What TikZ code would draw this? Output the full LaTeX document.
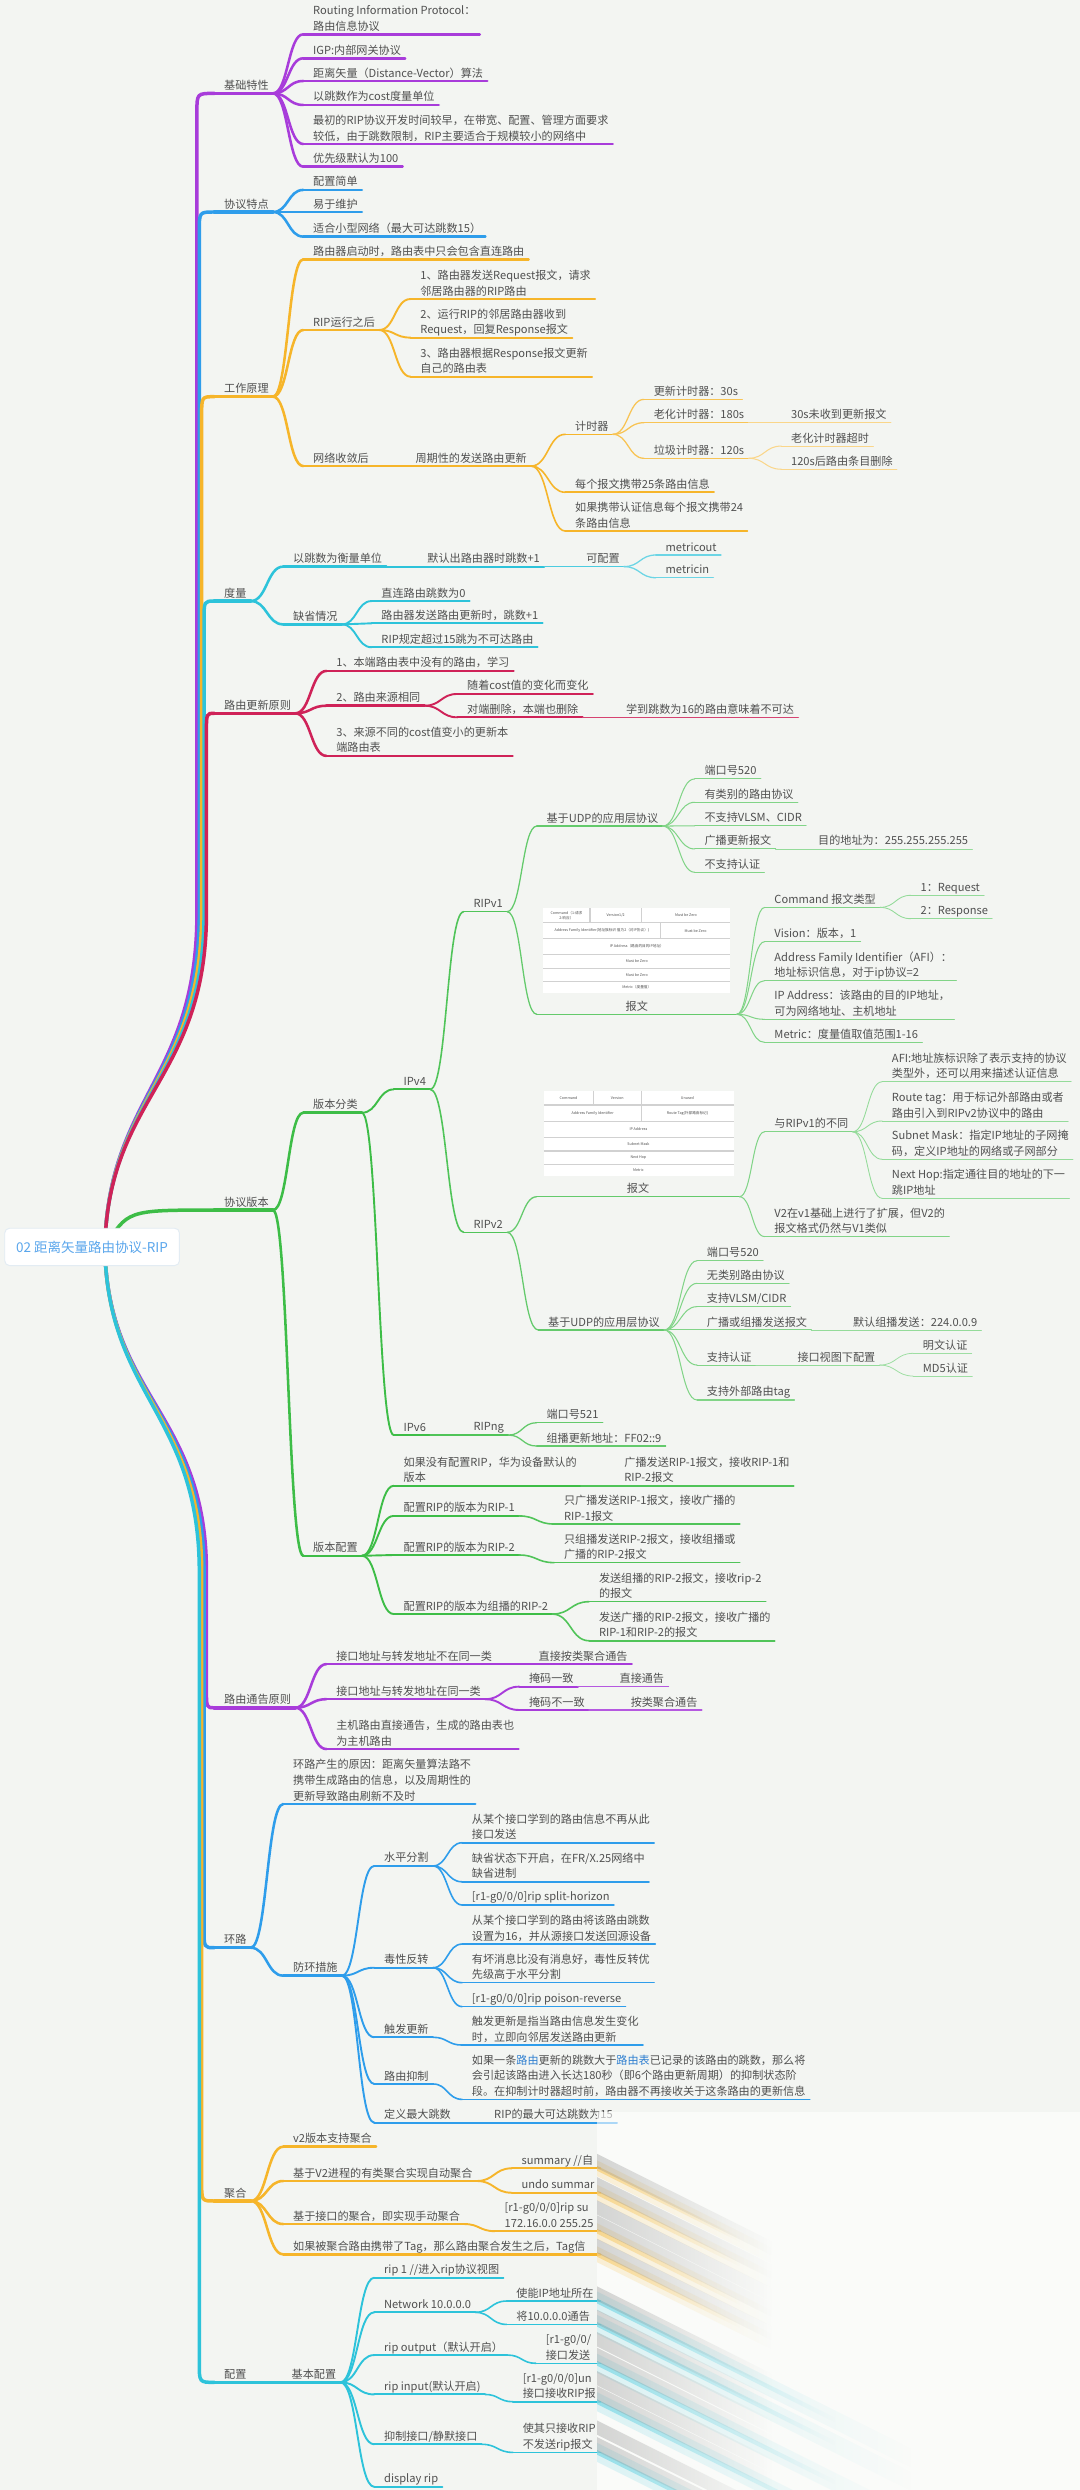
\documentclass[tikz,border=0pt]{standalone}
\usepackage{fontspec}
\setmainfont{Noto Sans CJK SC}
\usetikzlibrary{calc,fadings}
\definecolor{bg}{HTML}{F3F5F2}
\definecolor{tx}{HTML}{505050}
\definecolor{pu}{HTML}{A83CDA}
\definecolor{bl}{HTML}{2E9DEB}
\definecolor{og}{HTML}{F6B52A}
\definecolor{cy}{HTML}{2DC3DA}
\definecolor{cr}{HTML}{CF2258}
\definecolor{gr}{HTML}{3DBD47}
\definecolor{lk}{HTML}{2F7FD0}
\definecolor{rt}{HTML}{5AA6EC}
\definecolor{rootb}{HTML}{E3ECF3}
\newcommand\mystrut{\rule[-1.6pt]{0pt}{1pt}}
\newcommand\Tpc[5]{%
  \coordinate (#2-s) at (#3,#4);
  \node[txt,anchor=south west] (#2) at ($(#2-s)+(6,-0.7)$) {#5\mystrut};
  \coordinate (#2-e) at ($(#2.south east)+(2.5,0.7)$);
  \draw[#1] (#2-s) -- (#2-e);}
\newcommand\TpcX[6]{%
  \coordinate (#2-s) at (#3,#4);
  \node[txt,anchor=south west] (#2) at ($(#2-s)+(6,-0.7)$) {#6\mystrut};
  \coordinate (#2-e) at (#5,#4);
  \draw[#1] (#2-s) -- (#2-e);}
\newcommand\TpcC[6]{%
  \coordinate (#2-s) at (#3,#4);
  \coordinate (#2-e) at (#5,#4);
  \node[txt,anchor=south] (#2) at ($(#2-s)!0.5!(#2-e)+(0,-0.7)$) {#6\mystrut};
  \draw[#1] (#2-s) -- (#2-e);}
\newcommand\Cnx[3]{\draw[#1] let \p1=(#2-e), \p2=(#3-s) in (\p1) .. controls ({0.5*\x1+0.5*\x2},\y1) and ({0.5*\x1+0.5*\x2},\y2) .. (\p2);}
\newcommand\CnU[4]{\draw[#1] (rootc) .. controls (68,690) and (#3,680) .. (#3,575) -- (#3,#4+12) .. controls (#3,#4) .. (#2-s);}
\newcommand\CnD[4]{\draw[#1] (rootc) .. controls (68,880) and (#3,890) .. (#3,990) -- (#3,#4-12) .. controls (#3,#4) .. (#2-s);}
\newcommand\Fan[3]{\foreach \k in {#3}{\Cnx{#1}{#2}{\k}}}
\newcommand\Smear[5]{% color, y top, y bottom, length, opacity
  \fill[#1,path fading=east,opacity=#5] (376,#2) -- (376+#4,{#2+0.5*#4}) -- (376+#4,{#3+0.5*#4}) -- (376,#3) -- cycle;}
\tikzset{
  txt/.style={font=\fontsize{7}{9.8}\selectfont,text=tx,inner sep=0pt,align=left},
  L1/.style={line width=2.2pt,line cap=round},
  L2/.style={line width=1.6pt,line cap=round},
  L3/.style={line width=1.2pt,line cap=round},
  L4/.style={line width=1.0pt,line cap=round},
  L5/.style={line width=0.8pt,line cap=round},
  L6/.style={line width=0.65pt,line cap=round},
  L7/.style={line width=0.55pt,line cap=round},
  L8/.style={line width=0.5pt,line cap=round},
  tb/.style={font=\fontsize{2.3}{2.8}\selectfont,text=tx,inner sep=0pt,align=center},
  sep/.style={draw=black!18,line width=0.7pt}
}
\begin{document}
\begin{tikzpicture}[x=1pt,y=-1pt]
\fill[bg] (0,0) rectangle (680,1568);
\useasboundingbox (0,0) rectangle (680,1568);
\coordinate (rootc) at (66,786);

% ===== 基础特性
\Tpc{L1,color=pu}{jc}{135}{58.8}{基础特性}
\Tpc{L2,color=pu}{jc1}{191}{21.6}{Routing Information Protocol：\\路由信息协议}
\Tpc{L2,color=pu}{jc2}{191}{36.7}{IGP:内部网关协议}
\Tpc{L2,color=pu}{jc3}{191}{51}{距离矢量（Distance-Vector）算法}
\Tpc{L2,color=pu}{jc4}{191}{66.1}{以跳数作为cost度量单位}
\Tpc{L2,color=pu}{jc5}{191}{90.7}{最初的RIP协议开发时间较早，在带宽、配置、管理方面要求\\较低，由于跳数限制，RIP主要适合于规模较小的网络中}
\Tpc{L2,color=pu}{jc6}{191}{105}{优先级默认为100}
\Fan{L2,color=pu}{jc}{jc1,jc2,jc3,jc4,jc5,jc6}

% ===== 协议特点
\Tpc{L1,color=bl}{xy}{135}{133.5}{协议特点}
\Tpc{L2,color=bl}{xy1}{191}{119.6}{配置简单}
\Tpc{L2,color=bl}{xy2}{191}{133.5}{易于维护}
\Tpc{L2,color=bl}{xy3}{191}{149}{适合小型网络（最大可达跳数15）}
\Fan{L2,color=bl}{xy}{xy1,xy2,xy3}

% ===== 工作原理
\Tpc{L1,color=og}{gz}{135}{249.8}{工作原理}
\Tpc{L2,color=og}{gz1}{191}{163.3}{路由器启动时，路由表中只会包含直连路由}
\Tpc{L2,color=og}{gz2}{191}{207.8}{RIP运行之后}
\Tpc{L2,color=og}{gz3}{191}{293.5}{网络收敛后}
\Tpc{L3,color=og}{gz21}{258.5}{188.3}{1、路由器发送Request报文，请求\\邻居路由器的RIP路由}
\Tpc{L3,color=og}{gz22}{258.5}{212.6}{2、运行RIP的邻居路由器收到\\Request，回复Response报文}
\Tpc{L3,color=og}{gz23}{258.5}{237.2}{3、路由器根据Response报文更新\\自己的路由表}
\Tpc{L3,color=og}{gz31}{255.5}{293.5}{周期性的发送路由更新}
\Tpc{L4,color=og}{gz311}{356}{273.5}{计时器}
\Tpc{L4,color=og}{gz312}{356}{310}{每个报文携带25条路由信息}
\Tpc{L4,color=og}{gz313}{356}{334.4}{如果携带认证信息每个报文携带24\\条路由信息}
\Tpc{L5,color=og!80}{t1}{405.5}{251.5}{更新计时器：30s}
\Tpc{L5,color=og!80}{t2}{405.5}{266.2}{老化计时器：180s}
\Tpc{L5,color=og!80}{t3}{405.5}{288.6}{垃圾计时器：120s}
\Tpc{L6,color=og!55}{t21}{492}{266.2}{30s未收到更新报文}
\Tpc{L6,color=og!55}{t31}{492}{280.9}{老化计时器超时}
\Tpc{L6,color=og!55}{t32}{492}{295.5}{120s后路由条目删除}
\Fan{L2,color=og}{gz}{gz1,gz2,gz3}
\Fan{L3,color=og}{gz2}{gz21,gz22,gz23}
\Fan{L3,color=og}{gz3}{gz31}
\Fan{L4,color=og}{gz31}{gz311,gz312,gz313}
\Fan{L5,color=og!80}{gz311}{t1,t2,t3}
\Fan{L6,color=og!55}{t2}{t21}
\Fan{L6,color=og!55}{t3}{t31,t32}

% ===== 度量
\Tpc{L1,color=cy}{dl}{135}{378.5}{度量}
\Tpc{L2,color=cy}{dl1}{178.4}{356.8}{以跳数为衡量单位}
\Tpc{L2,color=cy}{dl2}{178.4}{393.2}{缺省情况}
\Tpc{L3,color=cy}{dl11}{263}{356.8}{默认出路由器时跳数+1}
\Tpc{L4,color=cy!85}{dl111}{363}{356.8}{可配置}
\Tpc{L5,color=cy!70}{dl1111}{413}{349.5}{metricout}
\Tpc{L5,color=cy!70}{dl1112}{413}{363.8}{metricin}
\Tpc{L3,color=cy}{dl21}{234}{378.5}{直连路由跳数为0}
\Tpc{L3,color=cy}{dl22}{234}{392.5}{路由器发送路由更新时，跳数+1}
\Tpc{L3,color=cy}{dl23}{234}{407.6}{RIP规定超过15跳为不可达路由}
\Fan{L2,color=cy}{dl}{dl1,dl2}
\Fan{L3,color=cy}{dl1}{dl11}
\Fan{L4,color=cy!85}{dl11}{dl111}
\Fan{L5,color=cy!70}{dl111}{dl1111,dl1112}
\Fan{L3,color=cy}{dl2}{dl21,dl22,dl23}

% ===== 路由更新原则
\Tpc{L1,color=cr}{gx}{135}{449.2}{路由更新原则}
\Tpc{L2,color=cr}{gx1}{205.6}{422.5}{1、本端路由表中没有的路由，学习}
\Tpc{L2,color=cr}{gx2}{205.6}{444.4}{2、路由来源相同}
\Tpc{L2,color=cr}{gx3}{205.6}{476}{3、来源不同的cost值变小的更新本\\端路由表}
\Tpc{L3,color=cr}{gx21}{288}{437}{随着cost值的变化而变化}
\Tpc{L3,color=cr}{gx22}{288}{451.7}{对端删除，本端也删除}
\Tpc{L4,color=cr!85}{gx221}{388}{451.7}{学到跳数为16的路由意味着不可达}
\Fan{L2,color=cr}{gx}{gx1,gx2,gx3}
\Fan{L3,color=cr}{gx2}{gx21,gx22}
\Fan{L4,color=cr!85}{gx22}{gx221}

% ===== 协议版本
\Tpc{L1,color=gr}{bb}{135}{762}{协议版本}
\Tpc{L2,color=gr}{bb1}{191}{700.7}{版本分类}
\Tpc{L2,color=gr}{bb2}{191}{979.7}{版本配置}
\Tpc{L3,color=gr}{v4}{248}{686}{IPv4}
\Tpc{L3,color=gr}{v6}{248}{903.7}{IPv6}
\Tpc{L4,color=gr!90}{r1}{292}{574.1}{RIPv1}
\Tpc{L4,color=gr!90}{r2}{292}{776}{RIPv2}
\Tpc{L4,color=gr!90}{rng}{292}{903.7}{RIPng}
\Tpc{L5,color=gr!80}{r1a}{338}{520.2}{基于UDP的应用层协议}
\TpcC{L5,color=gr!80}{r1b}{338}{638.7}{464}{报文}
\Tpc{L6,color=gr!65}{u1}{437.5}{490.5}{端口号520}
\Tpc{L6,color=gr!65}{u2}{437.5}{505.2}{有类别的路由协议}
\Tpc{L6,color=gr!65}{u3}{437.5}{520}{不支持VLSM、CIDR}
\Tpc{L6,color=gr!65}{u4}{437.5}{534.6}{广播更新报文}
\Tpc{L6,color=gr!65}{u5}{437.5}{549.3}{不支持认证}
\Tpc{L7,color=gr!55}{u41}{509}{534.6}{目的地址为：255.255.255.255}
\Tpc{L6,color=gr!65}{p1}{481.5}{571.4}{Command 报文类型}
\Tpc{L6,color=gr!65}{p2}{481.5}{593}{Vision：版本，1}
\Tpc{L6,color=gr!65}{p3}{481.5}{617.5}{Address Family Identifier（AFI）：\\地址标识信息，对于ip协议=2}
\Tpc{L6,color=gr!65}{p4}{481.5}{641.9}{IP Address：该路由的目的IP地址，\\可为网络地址、主机地址}
\Tpc{L6,color=gr!65}{p5}{481.5}{656.4}{Metric：度量值取值范围1-16}
\Tpc{L7,color=gr!55}{p11}{573.5}{563.8}{1：Request}
\Tpc{L7,color=gr!55}{p12}{573.5}{578.5}{2：Response}
\TpcC{L5,color=gr!80}{r2a}{338}{753.6}{465.6}{报文}
\Tpc{L5,color=gr!80}{r2b}{339}{837.5}{基于UDP的应用层协议}
\Tpc{L6,color=gr!65}{q1}{481.5}{712.7}{与RIPv1的不同}
\Tpc{L6,color=gr!65}{q2}{481.5}{778.7}{V2在v1基础上进行了扩展，但V2的\\报文格式仍然与V1类似}
\Tpc{L7,color=gr!55}{q11}{555.5}{681.2}{AFI:地址族标识除了表示支持的协议\\类型外，还可以用来描述认证信息}
\Tpc{L7,color=gr!55}{q12}{555.5}{705.9}{Route tag：用于标记外部路由或者\\路由引入到RIPv2协议中的路由}
\Tpc{L7,color=gr!55}{q13}{555.5}{730}{Subnet Mask：指定IP地址的子网掩\\码，定义IP地址的网络或子网部分}
\Tpc{L7,color=gr!55}{q14}{555.5}{754.6}{Next Hop:指定通往目的地址的下一\\跳IP地址}
\Tpc{L6,color=gr!65}{w1}{439}{793.9}{端口号520}
\Tpc{L6,color=gr!65}{w2}{439}{808.1}{无类别路由协议}
\Tpc{L6,color=gr!65}{w3}{439}{822.8}{支持VLSM/CIDR}
\Tpc{L6,color=gr!65}{w4}{439}{837.5}{广播或组播发送报文}
\Tpc{L6,color=gr!65}{w5}{439}{859.6}{支持认证}
\Tpc{L6,color=gr!65}{w6}{439}{881.6}{支持外部路由tag}
\Tpc{L7,color=gr!55}{w41}{531}{837.5}{默认组播发送：224.0.0.9}
\Tpc{L7,color=gr!55}{w51}{496}{859.6}{接口视图下配置}
\Tpc{L8,color=gr!50}{w511}{575}{852.2}{明文认证}
\Tpc{L8,color=gr!50}{w512}{575}{866.5}{MD5认证}
\Tpc{L5,color=gr!80}{n1}{338}{895.9}{端口号521}
\Tpc{L5,color=gr!80}{n2}{338}{910.6}{组播更新地址：FF02::9}
\Tpc{L3,color=gr}{vc1}{248}{935.6}{如果没有配置RIP，华为设备默认的\\版本}
\Tpc{L3,color=gr}{vc2}{248}{954.6}{配置RIP的版本为RIP-1}
\Tpc{L3,color=gr}{vc3}{248}{979.2}{配置RIP的版本为RIP-2}
\Tpc{L3,color=gr}{vc4}{248}{1016.4}{配置RIP的版本为组播的RIP-2}
\Tpc{L4,color=gr!90}{vc11}{387}{935.6}{广播发送RIP-1报文，接收RIP-1和\\RIP-2报文}
\Tpc{L4,color=gr!90}{vc21}{349}{959.7}{只广播发送RIP-1报文，接收广播的\\RIP-1报文}
\Tpc{L4,color=gr!90}{vc31}{349}{984}{只组播发送RIP-2报文，接收组播或\\广播的RIP-2报文}
\Tpc{L4,color=gr!90}{vc41}{371}{1008.6}{发送组播的RIP-2报文，接收rip-2\\的报文}
\Tpc{L4,color=gr!90}{vc42}{371}{1033.2}{发送广播的RIP-2报文，接收广播的\\RIP-1和RIP-2的报文}
\Fan{L2,color=gr}{bb}{bb1,bb2}
\Fan{L3,color=gr}{bb1}{v4,v6}
\Fan{L4,color=gr!90}{v4}{r1,r2}
\Fan{L4,color=gr!90}{v6}{rng}
\Fan{L5,color=gr!80}{r1}{r1a,r1b}
\Fan{L6,color=gr!65}{r1a}{u1,u2,u3,u4,u5}
\Fan{L7,color=gr!55}{u4}{u41}
\Fan{L6,color=gr!65}{r1b}{p1,p2,p3,p4,p5}
\Fan{L7,color=gr!55}{p1}{p11,p12}
\Fan{L5,color=gr!80}{r2}{r2a,r2b}
\Fan{L6,color=gr!65}{r2a}{q1,q2}
\Fan{L7,color=gr!55}{q1}{q11,q12,q13,q14}
\Fan{L6,color=gr!65}{r2b}{w1,w2,w3,w4,w5,w6}
\Fan{L7,color=gr!55}{w4}{w41}
\Fan{L7,color=gr!55}{w5}{w51}
\Fan{L8,color=gr!50}{w51}{w511,w512}
\Fan{L5,color=gr!80}{rng}{n1,n2}
\Fan{L3,color=gr}{bb2}{vc1,vc2,vc3,vc4}
\Fan{L4,color=gr!90}{vc1}{vc11}
\Fan{L4,color=gr!90}{vc2}{vc21}
\Fan{L4,color=gr!90}{vc3}{vc31}
\Fan{L4,color=gr!90}{vc4}{vc41,vc42}

% packet tables
\fill[white] (342,572) rectangle (460,625.5);
\draw[sep] (342,581)--(460,581) (342,590.9)--(460,590.9) (342,601)--(460,601) (342,609.8)--(460,609.8) (342,618.2)--(460,618.2) (371.5,572)--(371.5,581) (404,572)--(404,581) (416,581)--(416,590.9);
\node[tb] (v1a) at (356.7,576.5) {Command（1:请求\\2:响应）};
\node[tb] (v1b) at (387.7,576.5) {Version1/2};
\node[tb] (v1c) at (432,576.5) {Must be Zero};
\node[tb] (v1d) at (379,586) {Address Family Identifier(地址族标识 值为2（对IP协议）)};
\node[tb] (v1e) at (438,586) {Must be Zero};
\node[tb] (v1f) at (401,596) {IP Address（路由的目的IP地址）};
\node[tb] (v1g) at (401,605.4) {Must be Zero};
\node[tb] (v1h) at (401,614) {Must be Zero};
\node[tb] (v1i) at (401,621.9) {Metric（度量值）};
\fill[white] (342.5,686.8) rectangle (462,740.4);
\draw[sep] (342.5,695.8)--(462,695.8) (342.5,706.3)--(462,706.3) (342.5,716.4)--(462,716.4) (342.5,724.8)--(462,724.8) (342.5,733.2)--(462,733.2) (373.6,686.8)--(373.6,695.8) (403.8,686.8)--(403.8,706.3);
\node[tb] (v2a) at (358,691.3) {Command};
\node[tb] (v2b) at (388.7,691.3) {Version};
\node[tb] (v2c) at (432.9,691.3) {Unused};
\node[tb] (v2d) at (373.2,701) {Address Family Identifier};
\node[tb] (v2e) at (432.9,701) {Route Tag(外部路由标记)};
\node[tb] (v2f) at (402,711.3) {IP Address};
\node[tb] (v2g) at (402,720.6) {Subnet Mask};
\node[tb] (v2h) at (402,729) {Next Hop};
\node[tb] (v2i) at (402,736.8) {Metric};

% ===== 路由通告原则
\Tpc{L1,color=pu}{tg}{135}{1075.4}{路由通告原则}
\Tpc{L2,color=pu}{tg1}{205.6}{1047.9}{接口地址与转发地址不在同一类}
\Tpc{L2,color=pu}{tg2}{205.6}{1070}{接口地址与转发地址在同一类}
\Tpc{L2,color=pu}{tg3}{205.6}{1101.4}{主机路由直接通告，生成的路由表也\\为主机路由}
\Tpc{L3,color=pu}{tg11}{333}{1047.9}{直接按类聚合通告}
\Tpc{L3,color=pu}{tg21}{327}{1062.1}{掩码一致}
\Tpc{L3,color=pu}{tg22}{327}{1076.8}{掩码不一致}
\Tpc{L4,color=pu!85}{tg211}{384}{1062.1}{直接通告}
\Tpc{L4,color=pu!85}{tg221}{391}{1076.8}{按类聚合通告}
\Fan{L2,color=pu}{tg}{tg1,tg2,tg3}
\Fan{L3,color=pu}{tg1}{tg11}
\Fan{L3,color=pu}{tg2}{tg21,tg22}
\Fan{L4,color=pu!85}{tg21}{tg211}
\Fan{L4,color=pu!85}{tg22}{tg221}

% ===== 环路
\Tpc{L1,color=bl}{hl}{135}{1226.5}{环路}
\Tpc{L2,color=bl}{hl1}{178.4}{1136}{环路产生的原因：距离矢量算法路不\\携带生成路由的信息，以及周期性的\\更新导致路由刷新不及时}
\Tpc{L2,color=bl}{hl2}{178.4}{1244.1}{防环措施}
\Tpc{L3,color=bl}{sp}{235.7}{1175}{水平分割}
\Tpc{L3,color=bl}{pr}{235.7}{1239.1}{毒性反转}
\Tpc{L3,color=bl}{tu}{235.7}{1282.9}{触发更新}
\Tpc{L3,color=bl}{hd}{235.7}{1312.3}{路由抑制}
\Tpc{L3,color=bl}{mx}{235.7}{1336.7}{定义最大跳数}
\Tpc{L4,color=bl}{sp1}{291}{1160.4}{从某个接口学到的路由信息不再从此\\接口发送}
\Tpc{L4,color=bl}{sp2}{291}{1185}{缺省状态下开启，在FR/X.25网络中\\缺省进制}
\Tpc{L4,color=bl}{sp3}{291}{1199.6}{[r1-g0/0/0]rip split-horizon}
\Tpc{L4,color=bl}{pr1}{291}{1224.2}{从某个接口学到的路由将该路由跳数\\设置为16，并从源接口发送回源设备}
\Tpc{L4,color=bl}{pr2}{291}{1248.5}{有坏消息比没有消息好，毒性反转优\\先级高于水平分割}
\Tpc{L4,color=bl}{pr3}{291}{1263.6}{[r1-g0/0/0]rip poison-reverse}
\Tpc{L4,color=bl}{tu1}{291}{1287.8}{触发更新是指当路由信息发生变化\\时，立即向邻居发送路由更新}
\Tpc{L4,color=bl}{hd1}{291}{1322}{如果一条{\color{lk}路由}更新的跳数大于{\color{lk}路由表}已记录的该路由的跳数，那么将\\会引起该路由进入长达180秒（即6个路由更新周期）的抑制状态阶\\段。在抑制计时器超时前，路由器不再接收关于这条路由的更新信息}
\Tpc{L4,color=bl}{mx1}{305}{1336.7}{RIP的最大可达跳数为15}
\Fan{L2,color=bl}{hl}{hl1,hl2}
\Fan{L3,color=bl}{hl2}{sp,pr,tu,hd,mx}
\Fan{L4,color=bl}{sp}{sp1,sp2,sp3}
\Fan{L4,color=bl}{pr}{pr1,pr2,pr3}
\Fan{L4,color=bl}{tu}{tu1}
\Fan{L4,color=bl}{hd}{hd1}
\Fan{L4,color=bl}{mx}{mx1}

% ===== 聚合
\Tpc{L1,color=og}{jh}{135}{1386}{聚合}
\Tpc{L2,color=og}{jh1}{178.4}{1351.8}{v2版本支持聚合}
\Tpc{L2,color=og}{jh2}{178.4}{1373.4}{基于V2进程的有类聚合实现自动聚合}
\Tpc{L2,color=og}{jh3}{178.4}{1400.5}{基于接口的聚合，即实现手动聚合}
\TpcX{L2,color=og}{jh4}{178.4}{1419.6}{378}{如果被聚合路由携带了Tag，那么路由聚合发生之后，Tag信}
\TpcX{L3,color=og}{jh21}{322.3}{1365.4}{378}{summary  //自}
\TpcX{L3,color=og}{jh22}{322.3}{1380.8}{378}{undo summar}
\TpcX{L3,color=og}{jh31}{311.6}{1405}{378}{[r1-g0/0/0]rip su\\172.16.0.0 255.25}
\Fan{L2,color=og}{jh}{jh1,jh2,jh3,jh4}
\Fan{L3,color=og}{jh2}{jh21,jh22}
\Fan{L3,color=og}{jh3}{jh31}

% ===== 配置
\Tpc{L1,color=cy}{pz}{135}{1500.2}{配置}
\Tpc{L2,color=cy}{pz1}{177.5}{1500.2}{基本配置}
\Tpc{L3,color=cy}{c1}{235.7}{1434.3}{rip 1  //进入rip协议视图}
\Tpc{L3,color=cy}{c2}{235.7}{1456.1}{Network 10.0.0.0}
\Tpc{L3,color=cy}{c3}{235.7}{1483}{rip output（默认开启）}
\Tpc{L3,color=cy}{c4}{235.7}{1507.8}{rip input(默认开启)}
\Tpc{L3,color=cy}{c5}{235.7}{1539.2}{抑制接口/静默接口}
\Tpc{L3,color=cy}{c6}{235.7}{1566}{display rip}
\TpcX{L4,color=cy}{c21}{319}{1449}{378}{使能IP地址所在}
\TpcX{L4,color=cy}{c22}{319}{1463.7}{378}{将10.0.0.0通告}
\TpcX{L4,color=cy}{c31}{337.5}{1488.2}{378}{[r1-g0/0/\\接口发送}
\TpcX{L4,color=cy}{c41}{323}{1512.4}{378}{[r1-g0/0/0]un\\接口接收RIP报}
\TpcX{L4,color=cy}{c51}{323}{1544.3}{378}{使其只接收RIP\\不发送rip报文}
\Fan{L2,color=cy}{pz}{pz1}
\Fan{L3,color=cy}{pz1}{c1,c2,c3,c4,c5,c6}
\Fan{L4,color=cy}{c2}{c21,c22}
\Fan{L4,color=cy}{c3}{c31}
\Fan{L4,color=cy}{c4}{c41}
\Fan{L4,color=cy}{c5}{c51}

% blurred area (screenshot smear)
\fill[white,opacity=0.6] (376,1330) -- (680,1330) -- (680,1568) -- (376,1568) -- cycle;
\foreach \yy in {1365.4,1380.8,1405,1419.6}{\Smear{og}{\yy-5}{\yy+5}{110}{0.18}\Smear{og}{\yy-1.5}{\yy+1.5}{90}{0.4}}
\foreach \yy in {1449,1463.7,1488.2,1512.4,1544.3}{\Smear{cy}{\yy-6}{\yy+6}{200}{0.15}\Smear{cy}{\yy-1.5}{\yy+1.5}{150}{0.4}}
\foreach \yy in {1361.3,1376,1390.6,1400,1414.8,1444.8,1459.5,1473.6,1483.4,1498.1,1507.6,1529.2,1539.7}{\Smear{black!45}{\yy-5}{\yy+4}{110}{0.35}}

% level-1 connectors from root
\CnU{L1,color=pu}{jc}{124}{58.8}
\CnU{L1,color=bl}{xy}{125.5}{133.5}
\CnU{L1,color=og}{gz}{127}{249.8}
\CnU{L1,color=cy}{dl}{128.5}{378.5}
\CnU{L1,color=cr}{gx}{130}{449.2}
\draw[L1,color=gr] (rootc) .. controls (80,762) .. (bb-s);
\CnD{L1,color=pu}{tg}{130}{1075.4}
\CnD{L1,color=bl}{hl}{128.5}{1226.5}
\CnD{L1,color=og}{jh}{127}{1386}
\CnD{L1,color=cy}{pz}{125.5}{1500.2}

% root
\node[draw=rootb,fill=white,rounded corners=3pt,line width=0.6pt,minimum width=110pt,minimum height=23.5pt,inner sep=0pt,text=rt,font=\fontsize{8.5}{10}\selectfont] (root) at (58,785.2) {02 距离矢量路由协议-RIP};
\end{tikzpicture}
\end{document}
